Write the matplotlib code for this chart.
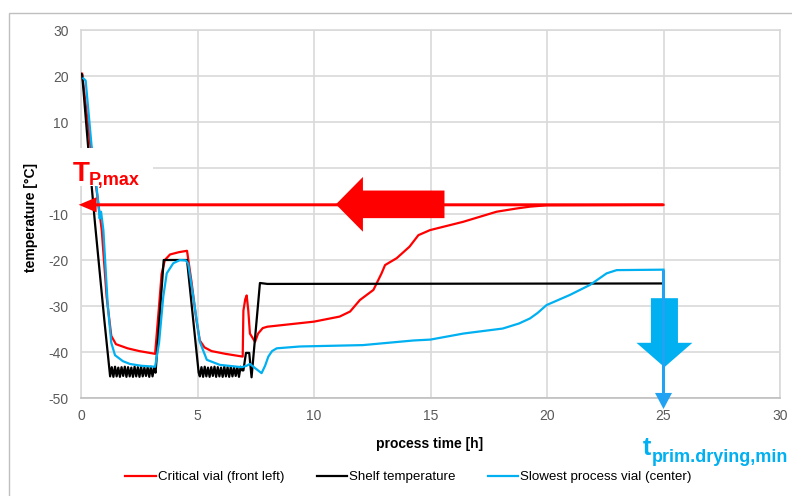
import numpy as np
import matplotlib
matplotlib.use("Agg")
import matplotlib.pyplot as plt
from matplotlib.patches import Rectangle

plt.rcParams['font.family'] = ['Liberation Sans', 'DejaVu Sans']
plt.rcParams['axes.unicode_minus'] = False

# --- data (time in h, temperature in degC) ---
critical_t = [0.05, 0.4, 0.7, 0.89, 1.1, 1.3, 1.5, 2.0, 2.5, 3.18, 3.35, 3.46, 3.6, 3.82, 4.2, 4.55,
              4.75, 4.95, 5.1, 5.3, 5.6, 6.2, 6.94, 6.97, 7.05, 7.11, 7.18, 7.25, 7.47, 7.6, 7.8,
              8.0, 10.0, 11.1, 11.55, 11.97, 12.55, 12.9, 13.05, 13.55, 14.1, 14.48, 14.98, 16.4,
              17.84, 18.7, 19.27, 20.0, 25.0]
critical_T = [20.5, 5.0, -6.0, -13.5, -28.0, -36.5, -38.3, -39.2, -39.8, -40.4, -30.0, -23.0, -20.0,
              -18.8, -18.3, -18.0, -25.0, -33.0, -37.5, -39.0, -39.8, -40.4, -41.0, -31.0, -28.5,
              -27.7, -31.0, -36.0, -37.8, -36.0, -34.8, -34.5, -33.4, -32.3, -31.2, -28.7, -26.5,
              -22.9, -21.1, -19.6, -17.1, -14.6, -13.5, -11.7, -9.5, -8.8, -8.4, -8.1, -8.0]

shelf_t = [0.0, 0.05, 0.3, 0.6, 1.0, 1.25,
           1.32, 1.39, 1.46, 1.53, 1.60, 1.67, 1.74, 1.81, 1.88, 1.95, 2.02, 2.09, 2.16, 2.23,
           2.30, 2.37, 2.44, 2.51, 2.58, 2.65, 2.72, 2.79, 2.86, 2.93, 3.00, 3.07, 3.14, 3.20,
           3.55, 4.55, 5.05, 5.10,
           5.17, 5.24, 5.31, 5.38, 5.45, 5.52, 5.59, 5.66, 5.73, 5.80, 5.87, 5.94, 6.01, 6.08,
           6.15, 6.22, 6.29, 6.36, 6.43, 6.50, 6.57, 6.64, 6.71, 6.78, 6.85, 6.92,
           6.97, 7.08, 7.22, 7.32, 7.68, 8.0, 25.0]
shelf_T = [20.5, 20.3, 5.0, -12.0, -33.0, -45.3,
           -43.3, -45.4, -43.2, -45.3, -43.4, -45.4, -43.3, -45.2, -43.2, -45.4, -43.3, -45.3,
           -43.4, -45.4, -43.2, -45.3, -43.3, -45.4, -43.2, -45.3, -43.4, -45.2, -43.3, -45.4,
           -43.2, -45.3, -43.4, -44.5,
           -20.0, -20.0, -44.5, -45.3,
           -43.3, -45.4, -43.2, -45.3, -43.4, -45.4, -43.3, -45.2, -43.2, -45.4, -43.3, -45.3,
           -43.4, -45.4, -43.2, -45.3, -43.3, -45.4, -43.2, -45.3, -43.4, -45.2, -43.3, -45.4,
           -43.2, -44.0,
           -44.0, -40.2, -40.2, -45.5, -25.0, -25.2, -25.1]

slowest_t = [0.1, 0.2, 0.45, 0.72, 0.8, 0.86, 0.96, 1.15, 1.3, 1.46, 1.8, 2.1, 2.6, 3.18, 3.35,
             3.53, 3.68, 3.96, 4.25, 4.5, 4.6, 4.82, 5.1, 5.4, 5.96, 6.9, 7.1, 7.25, 7.47, 7.75,
             7.9, 8.04, 8.2, 8.4, 9.4, 12.1, 14.26, 15.0, 16.4, 16.7, 18.1, 18.8, 19.27, 19.6,
             19.98, 20.98, 21.85, 22.56, 22.99, 25.0]
slowest_T = [19.5, 19.0, 5.0, -6.5, -11.0, -9.5, -13.5, -30.0, -38.0, -40.7, -42.0, -42.6, -43.0,
             -43.2, -38.0, -28.0, -22.9, -20.7, -20.0, -20.1, -20.8, -28.0, -37.8, -41.7, -42.8,
             -43.3, -43.0, -42.6, -43.5, -44.6, -43.0, -41.0, -39.8, -39.2, -38.8, -38.5, -37.5,
             -37.3, -36.0, -35.8, -34.9, -33.8, -32.7, -31.5, -29.8, -27.6, -25.4, -22.9, -22.2,
             -22.1]

T_P_max = -8.0          # max product temperature
t_prim_min = 25.0       # end of primary drying

RED = '#FF0000'
BLUE = '#00B0F0'
GREY_TXT = '#595959'

fig = plt.figure(figsize=(7.92, 4.96), dpi=100)
ax = fig.add_axes([81/792, 1-398/496, 699/792, 368/496])

ax.plot(critical_t, critical_T, color=RED, lw=1.6, label='Critical vial (front left)', zorder=3)
ax.plot(shelf_t, shelf_T, color='black', lw=1.6, label='Shelf temperature', zorder=3)
ax.plot(slowest_t, slowest_T, color=BLUE, lw=1.6, label='Slowest process vial (center)', zorder=3)

# T_P,max arrows (red)
ax.arrow(t_prim_min, T_P_max, -(t_prim_min + 0.1), 0, width=0.65, head_width=3.3, head_length=0.77,
         length_includes_head=True, color=RED, lw=0, clip_on=False, zorder=4)
ax.arrow(15.6, -7.9, -4.66, 0, width=6.0, head_width=11.9, head_length=1.16,
         length_includes_head=True, color=RED, lw=0, zorder=4)

# t_prim.drying,min arrows (blue)
ax.arrow(25.04, -28.3, 0, -15.0, width=1.16, head_width=2.4, head_length=5.3,
         length_includes_head=True, color=BLUE, lw=0, zorder=4)
ax.arrow(t_prim_min, -22.2, 0, -30.2, width=0.13, head_width=0.73, head_length=3.5,
         length_includes_head=True, color='#22A2F2', lw=0, clip_on=False, zorder=5)

ax.set_xlim(0, 30)
ax.set_ylim(-50, 30)
ax.set_xticks(np.arange(0, 31, 5))
ax.set_yticks(np.arange(-50, 31, 10))
ax.grid(True, color='#D9D9D9', lw=1.2)
ax.set_axisbelow(True)
for s in ax.spines.values():
    s.set_color('#D9D9D9')
    s.set_linewidth(1.2)
ax.spines['bottom'].set_color('#BFBFBF')
ax.tick_params(length=0, labelsize=10, labelcolor=GREY_TXT)
ax.tick_params(axis='y', pad=9)
ax.tick_params(axis='x', pad=8)

ax.set_xlabel('process time [h]', fontsize=10, fontweight='bold')
ax.set_ylabel('temperature [°C]', fontsize=10, fontweight='bold')
ax.xaxis.set_label_coords(0.498, -0.106)
ax.yaxis.set_label_coords(-0.061, 0.49)

fig.legend(loc='center', bbox_to_anchor=(0.516, 0.038), ncol=3, frameon=False, fontsize=9.6,
           handlelength=2.3, handletextpad=0.15, columnspacing=2.4)

# outer chart border
fig.add_artist(Rectangle((9/792, -0.1), 1.2, 1-13/496 + 0.1, transform=fig.transFigure,
                         fill=False, ec='#BFBFBF', lw=1.0))

# white label box covering the axis near 0 degC
fig.add_artist(Rectangle((50/792, 1-186/496), 103/792, 38/496, transform=fig.transFigure,
                         fc='white', ec='none', zorder=5))
fig.text(73/792, 1-181/496, 'T', color=RED, fontsize=20, fontweight='bold',
         va='baseline', zorder=6)
fig.text(89/792, 1-185/496, 'P,max', color=RED, fontsize=13, fontweight='bold',
         va='baseline', zorder=6)

fig.text(643/792, 1-455/496, 't', color=BLUE, fontsize=18, fontweight='bold', va='baseline')
fig.text(652/792, 1-462/496, 'prim.drying,min', color=BLUE, fontsize=13, fontweight='bold',
         va='baseline')

fig.savefig('out.png', dpi=100)
